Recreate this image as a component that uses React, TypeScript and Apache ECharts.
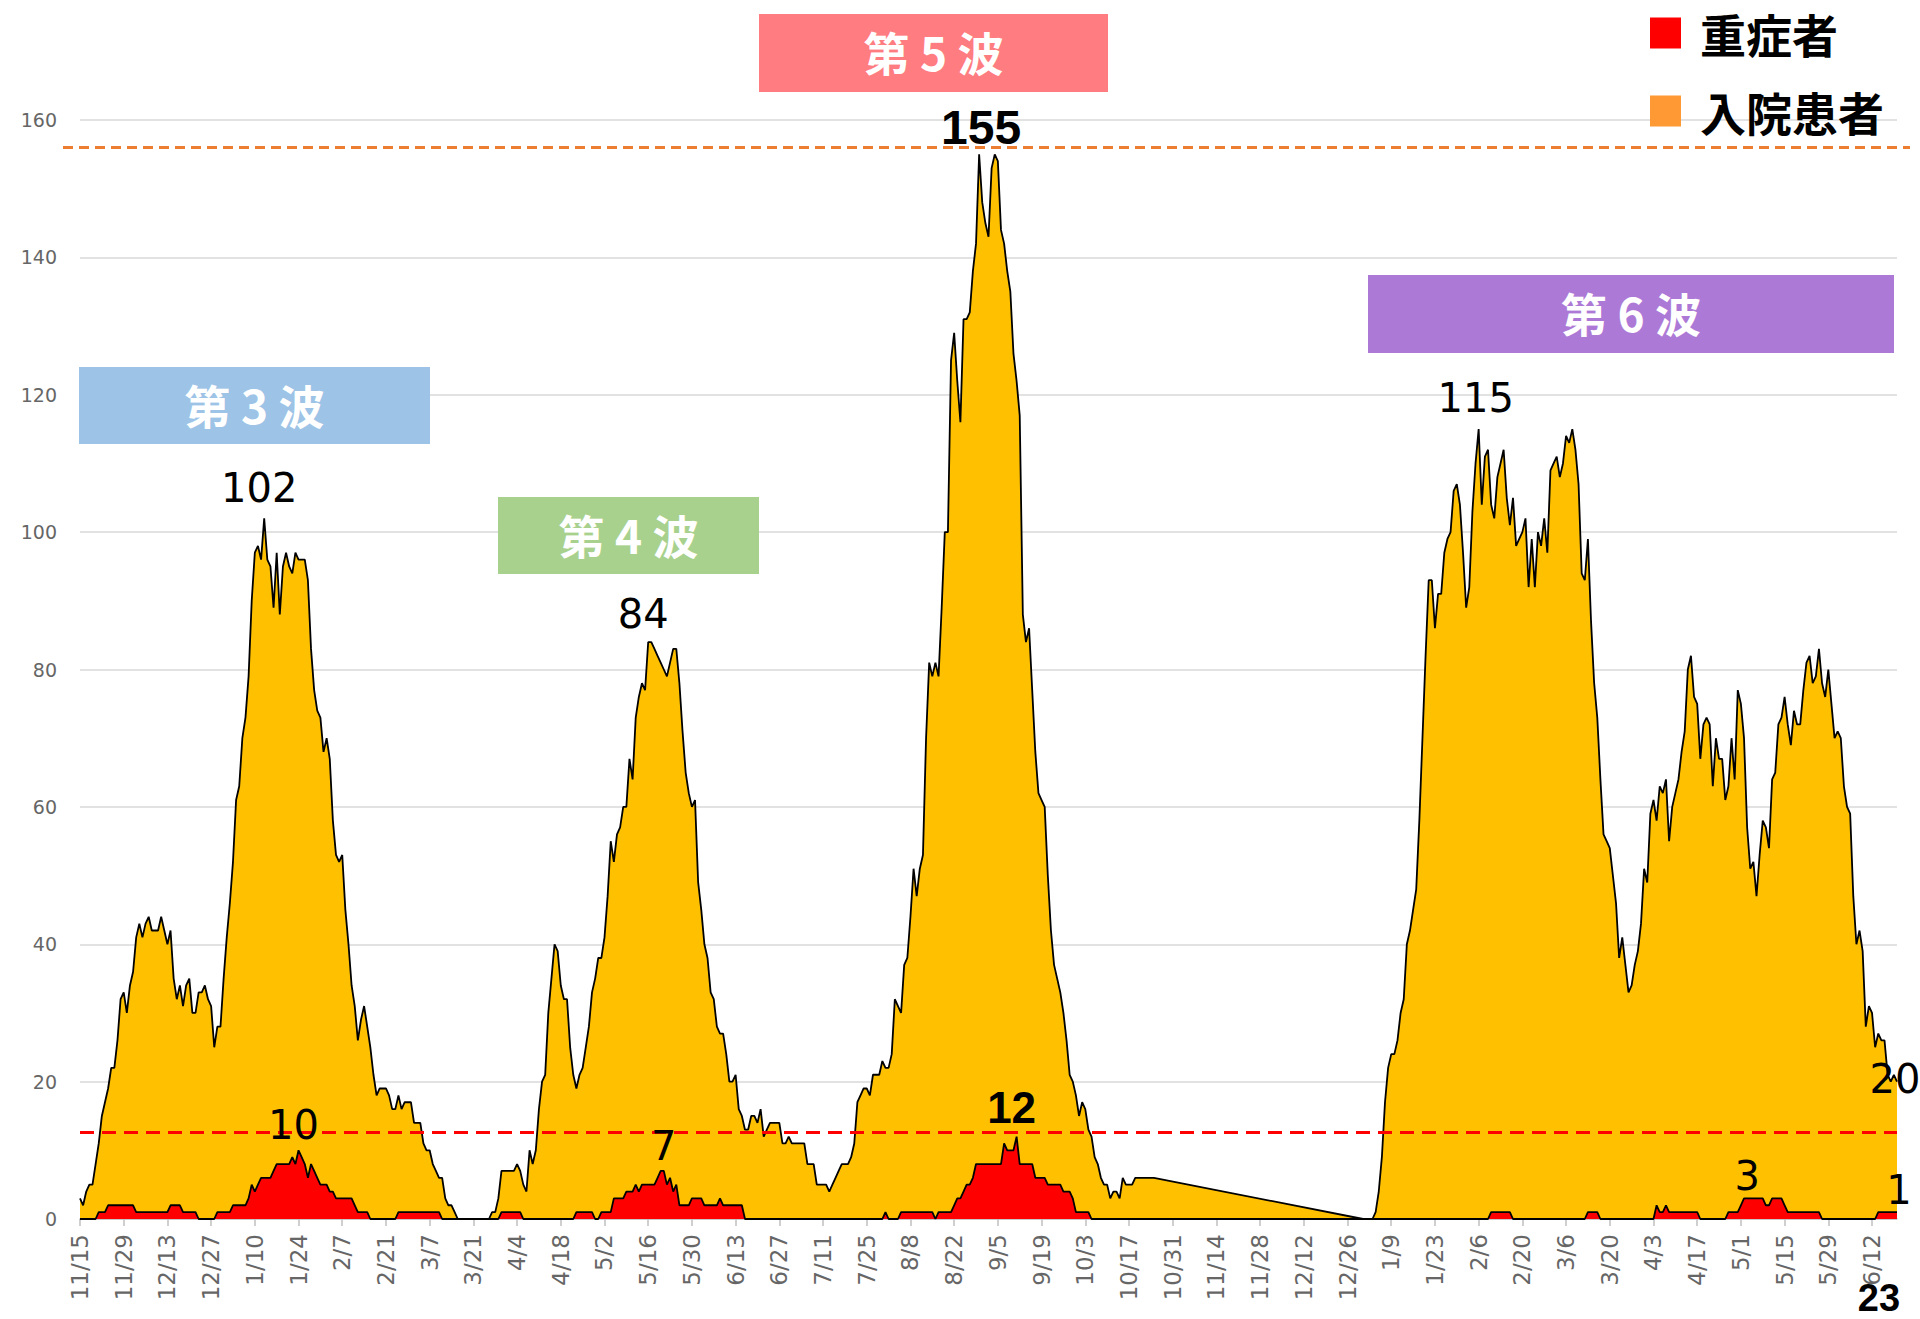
import React, { useEffect, useRef } from "react";
import * as echarts from "echarts";

// ---- categories: one per day from 2020-11-15 ----
const START_DATE = Date.UTC(2020, 10, 15);
const DAY_COUNT = 583;
const categories: string[] = [];
for (let i = 0; i < DAY_COUNT; i++) {
  const d = new Date(START_DATE + i * 86400000);
  categories.push(`${d.getUTCMonth() + 1}/${d.getUTCDate()}`);
}

// ---- 入院患者 (inpatients) ----
const inpatientBeforeGap = [
  3, 2, 4, 5, 5, 8, 11, 15, 17, 19, 22, 22, 26, 32, 33, 30, 34, 36, 41, 43,
  41, 43, 44, 42, 42, 42, 44, 42, 40, 42, 35, 32, 34, 31, 34, 35, 30, 30, 33, 33,
  34, 32, 31, 25, 28, 28, 35, 41, 46, 52, 61, 63, 70, 73, 79, 90, 97, 98, 96, 102,
  96, 95, 89, 97, 88, 95, 97, 95, 94, 97, 96, 96, 96, 93, 83, 77, 74, 73, 68, 70,
  67, 58, 53, 52, 53, 45, 40, 34, 31, 26, 29, 31, 28, 25, 21, 18, 19, 19, 19, 18,
  16, 16, 18, 16, 17, 17, 17, 14, 14, 14, 11, 10, 10, 8, 7, 6, 6, 3, 2, 2,
  1, 0, 0, 0, 0, 0, 0, 0, 0, 0, 0, 0, 1, 1, 3, 7, 7, 7, 7, 7,
  8, 7, 5, 4, 10, 8, 10, 16, 20, 21, 30, 35, 40, 39, 34, 32, 32, 25, 21, 19,
  21, 22, 25, 28, 33, 35, 38, 38, 41, 47, 55, 52, 56, 57, 60, 60, 67, 64, 73, 76,
  78, 77, 84, 84, 83, 82, 81, 80, 79, 81, 83, 83, 78, 71, 65, 62, 60, 61, 49, 45,
  40, 38, 33, 32, 28, 27, 27, 24, 20, 20, 21, 16, 15, 13, 13, 15, 15, 14, 16, 12,
  13, 14, 14, 14, 14, 11, 11, 12, 11, 11, 11, 11, 11, 8, 8, 8, 5, 5, 5, 5,
  4, 5, 6, 7, 8, 8, 8, 9, 11, 17, 18, 19, 19, 18, 21, 21, 21, 23, 22, 22,
  24, 32, 31, 30, 37, 38, 44, 51, 47, 51, 53, 70, 81, 79, 81, 79, 89, 100, 100, 125,
  129, 122, 116, 131, 131, 132, 138, 142, 155, 148, 145, 143, 153, 155, 154, 144, 142, 138, 135, 126,
  122, 117, 88, 84, 86, 77, 68, 62, 61, 60, 50, 42, 37, 35, 33, 30, 26, 21, 20, 18,
  15, 17, 16, 13, 12, 9, 8, 6, 5, 5, 3, 4, 4, 3, 6, 5, 5, 5, 6, 6,
  6, 6, 6, 6, 6,
];
const GAP_DAYS = 66; // no data 10/26/2021 - 12/30/2021
const inpatientAfterGap = [
  0, 0, 0, 0, 1, 4, 9, 17, 22, 24, 24, 26, 30, 32, 40, 42, 45, 48, 58, 70,
  82, 93, 93, 86, 91, 91, 97, 99, 100, 106, 107, 104, 97, 89, 92, 103, 110, 115, 104, 111,
  112, 104, 102, 108, 110, 112, 105, 101, 105, 98, 99, 100, 102, 92, 99, 92, 100, 98, 102, 97,
  109, 110, 111, 108, 110, 114, 113, 115, 112, 107, 94, 93, 99, 87, 78, 73, 64, 56, 55, 54,
  50, 46, 38, 41, 37, 33, 34, 37, 39, 43, 51, 49, 59, 61, 58, 63, 62, 64, 55, 60,
  62, 64, 68, 71, 80, 82, 76, 75, 67, 72, 73, 72, 63, 70, 67, 67, 61, 63, 70, 64,
  77, 75, 70, 57, 51, 52, 47, 53, 58, 57, 54, 64, 65, 72, 73, 76, 72, 69, 74, 72,
  72, 77, 81, 82, 78, 79, 83, 78, 76, 80, 75, 70, 71, 70, 63, 60, 59, 47, 40, 42,
  39, 28, 31, 30, 25, 27, 26, 26, 21, 20, 21, 20,
];

// ---- 重症者 (severe) ----
const severeBeforeGap = [
  0, 0, 0, 0, 0, 0, 1, 1, 1, 2, 2, 2, 2, 2, 2, 2, 2, 2, 1, 1,
  1, 1, 1, 1, 1, 1, 1, 1, 1, 2, 2, 2, 2, 1, 1, 1, 1, 1, 0, 0,
  0, 0, 0, 0, 1, 1, 1, 1, 1, 2, 2, 2, 2, 2, 3, 5, 4, 5, 6, 6,
  6, 6, 7, 8, 8, 8, 8, 8, 9, 8, 10, 9, 8, 6, 8, 7, 6, 5, 5, 5,
  4, 4, 3, 3, 3, 3, 3, 3, 2, 1, 1, 1, 1, 0, 0, 0, 0, 0, 0, 0,
  0, 0, 1, 1, 1, 1, 1, 1, 1, 1, 1, 1, 1, 1, 1, 1, 0, 0, 0, 0,
  0, 0, 0, 0, 0, 0, 0, 0, 0, 0, 0, 0, 0, 0, 0, 1, 1, 1, 1, 1,
  1, 1, 0, 0, 0, 0, 0, 0, 0, 0, 0, 0, 0, 0, 0, 0, 0, 0, 0, 1,
  1, 1, 1, 1, 1, 0, 0, 1, 1, 1, 1, 3, 3, 3, 3, 4, 4, 4, 5, 4,
  5, 5, 5, 5, 5, 6, 7, 7, 5, 6, 4, 5, 2, 2, 2, 2, 3, 3, 3, 3,
  2, 2, 2, 2, 2, 3, 2, 2, 2, 2, 2, 2, 2, 0, 0, 0, 0, 0, 0, 0,
  0, 0, 0, 0, 0, 0, 0, 0, 0, 0, 0, 0, 0, 0, 0, 0, 0, 0, 0, 0,
  0, 0, 0, 0, 0, 0, 0, 0, 0, 0, 0, 0, 0, 0, 0, 0, 0, 0, 1, 0,
  0, 0, 0, 1, 1, 1, 1, 1, 1, 1, 1, 1, 1, 1, 0, 1, 1, 1, 1, 1,
  2, 3, 3, 4, 5, 5, 6, 8, 8, 8, 8, 8, 8, 8, 8, 8, 11, 10, 10, 10,
  12, 8, 8, 8, 8, 8, 6, 6, 6, 6, 5, 5, 5, 5, 5, 4, 4, 4, 3, 1,
  1, 1, 1, 1, 0, 0, 0, 0, 0, 0, 0, 0, 0, 0, 0, 0, 0, 0, 0, 0,
  0, 0, 0, 0, 0,
];
const severeAfterGap = [
  0, 0, 0, 0, 0, 0, 0, 0, 0, 0, 0, 0, 0, 0, 0, 0, 0, 0, 0, 0,
  0, 0, 0, 0, 0, 0, 0, 0, 0, 0, 0, 0, 0, 0, 0, 0, 0, 0, 0, 0,
  0, 1, 1, 1, 1, 1, 1, 1, 0, 0, 0, 0, 0, 0, 0, 0, 0, 0, 0, 0,
  0, 0, 0, 0, 0, 0, 0, 0, 0, 0, 0, 0, 1, 1, 1, 1, 0, 0, 0, 0,
  0, 0, 0, 0, 0, 0, 0, 0, 0, 0, 0, 0, 0, 0, 2, 1, 1, 2, 1, 1,
  1, 1, 1, 1, 1, 1, 1, 1, 0, 0, 0, 0, 0, 0, 0, 0, 0, 1, 1, 1,
  1, 2, 3, 3, 3, 3, 3, 3, 3, 2, 2, 3, 3, 3, 3, 2, 1, 1, 1, 1,
  1, 1, 1, 1, 1, 1, 1, 0, 0, 0, 0, 0, 0, 0, 0, 0, 0, 0, 0, 0,
  0, 0, 0, 0, 0, 1, 1, 1, 1, 1, 1, 1,
];

const gap: (number | null)[] = new Array(GAP_DAYS).fill(null);
const inpatient: (number | null)[] = [...inpatientBeforeGap, ...gap, ...inpatientAfterGap];
const severe: (number | null)[] = [...severeBeforeGap, ...gap, ...severeAfterGap];

// reference lines
const HOSPITAL_BEDS = 156;
const SEVERE_BEDS = 12.6;

// y axis
const Y_MIN = 0;
const Y_MAX = 160;
const Y_STEP = 20;

// wave banners
const waves = [
  { text: "第 3 波", color: "#9DC3E6", x: 79, y: 367, w: 351, h: 77 },
  { text: "第 4 波", color: "#A9D18E", x: 498, y: 497, w: 261, h: 77 },
  { text: "第 5 波", color: "#FF7C80", x: 759, y: 14, w: 349, h: 78 },
  { text: "第 6 波", color: "#AD79D6", x: 1368, y: 275, w: 526, h: 78 },
];

// value annotations: [series, dayIndex, text, bold, size, dx, dy]
const annotations: [string, number, string, boolean, number, number, number][] = [
  ["inpatient", 59, "102", false, 40, -5, -30],
  ["inpatient", 182, "84", false, 40, -5, -28],
  ["inpatient", 288, "155", true, 48, 2, -27],
  ["inpatient", 448, "115", false, 40, -3, -31],
  ["inpatient", 582, "20", false, 40, -2, -3],
  ["severe", 70, "10", false, 40, -5, -25],
  ["severe", 186, "7", false, 40, 3, -25],
  ["severe", 300, "12", true, 44, -5, -29],
  ["severe", 534, "3", false, 40, 0, -22],
  ["severe", 582, "1", false, 40, 2, -22],
];

const CJK = '"Noto Sans CJK JP", "Noto Sans CJK SC", sans-serif';

export default function App() {
  const ref = useRef<HTMLDivElement>(null);
  useEffect(() => {
    if (!ref.current) return;
    const chart = echarts.init(ref.current, undefined, { renderer: "svg" });
    const option: any = {
      animation: false,
      backgroundColor: "#ffffff",
      grid: { left: 80, right: 23, top: 120, bottom: 100, containLabel: false },
      xAxis: {
        type: "category",
        boundaryGap: false,
        data: categories,
        axisLine: { lineStyle: { color: "#BFBFBF", width: 1.5 } },
        axisTick: { show: true, interval: 13, length: 7, lineStyle: { color: "#BFBFBF", width: 1.5 } },
        axisLabel: {
          interval: 13,
          rotate: 90,
          margin: 15,
          fontSize: 23,
          color: "#666666",
          fontFamily: "DejaVu Sans",
        },
        splitLine: { show: false },
      },
      yAxis: {
        type: "value",
        min: Y_MIN,
        max: Y_MAX,
        interval: Y_STEP,
        axisLine: { show: false },
        axisTick: { show: false },
        axisLabel: { fontSize: 19, color: "#666666", fontFamily: "DejaVu Sans", margin: 23 },
        splitLine: { lineStyle: { color: "#D9D9D9", width: 1.5 } },
      },
      series: [
        {
          name: "入院患者",
          type: "line",
          data: inpatient,
          connectNulls: true,
          symbol: "none",
          showSymbol: false,
          lineStyle: { color: "#000000", width: 1.8 },
          itemStyle: { color: "#FFC000" },
          areaStyle: { color: "#FFC000", opacity: 1 },
          z: 2,
        },
        {
          name: "重症者",
          type: "line",
          data: severe,
          connectNulls: true,
          symbol: "none",
          showSymbol: false,
          lineStyle: { color: "#000000", width: 1.8 },
          itemStyle: { color: "#FF0000" },
          areaStyle: { color: "#FF0000", opacity: 1 },
          z: 3,
          markLine: {
            silent: true,
            symbol: "none",
            label: { show: false },
            lineStyle: { color: "#FF0000", type: [14, 8], width: 3 },
            data: [{ yAxis: SEVERE_BEDS }],
          },
        },
      ],
    };
    chart.setOption(option);

    const graphics: any[] = [];
    // orange reference line (extends beyond plot)
    const yBeds = chart.convertToPixel({ yAxisIndex: 0 } as any, HOSPITAL_BEDS) as number;
    graphics.push({
      type: "line",
      shape: { x1: 63, y1: yBeds, x2: 1910, y2: yBeds },
      style: { stroke: "#ED7D31", lineWidth: 3, lineDash: [10, 6] },
      z: 10,
    });
    // wave banners
    waves.forEach((w) => {
      graphics.push({
        type: "rect",
        shape: { x: w.x, y: w.y, width: w.w, height: w.h },
        style: { fill: w.color },
        z: 20,
      });
      graphics.push({
        type: "text",
        x: w.x + w.w / 2,
        y: w.y + w.h / 2 - 2,
        style: {
          text: w.text,
          fill: "#ffffff",
          fontSize: 46,
          lineHeight: 48,
          fontWeight: "bold",
          fontFamily: CJK,
          align: "center",
          verticalAlign: "middle",
          textAlign: "center",
          textVerticalAlign: "middle",
        },
        z: 21,
      });
    });
    // legend
    const legendItems = [
      { text: "重症者", color: "#FF0000", y: 33 },
      { text: "入院患者", color: "#FF9933", y: 111 },
    ];
    legendItems.forEach((l) => {
      graphics.push({
        type: "rect",
        shape: { x: 1650, y: l.y - 15.5, width: 31, height: 31 },
        style: { fill: l.color },
        z: 20,
      });
      graphics.push({
        type: "text",
        x: 1700,
        y: l.y,
        style: {
          text: l.text,
          fill: "#000000",
          fontSize: 46,
          lineHeight: 48,
          fontWeight: "bold",
          fontFamily: CJK,
          align: "left",
          verticalAlign: "middle",
          textAlign: "left",
          textVerticalAlign: "middle",
        },
        z: 21,
      });
    });
    // value annotations
    annotations.forEach(([s, idx, text, bold, size, dx, dy]) => {
      const v = s === "inpatient" ? inpatient[idx] : severe[idx];
      const p = chart.convertToPixel({ gridIndex: 0 } as any, [idx, v as number]) as number[];
      graphics.push({
        type: "text",
        x: p[0] + dx,
        y: p[1] + dy,
        style: {
          text,
          fill: "#000000",
          fontSize: size,
          fontWeight: bold ? "bold" : "normal",
          fontFamily: bold ? "Liberation Sans" : "DejaVu Sans",
          align: "center",
          verticalAlign: "middle",
          textAlign: "center",
          textVerticalAlign: "middle",
        },
        z: 22,
      });
    });
    // date annotation under the axis end
    const pEnd = chart.convertToPixel({ gridIndex: 0 } as any, [DAY_COUNT - 1, 0]) as number[];
    graphics.push({
      type: "text",
      x: pEnd[0] - 18,
      y: 1298,
      style: {
        text: "23",
        fill: "#000000",
        fontSize: 38,
        fontWeight: "bold",
        fontFamily: "Liberation Sans",
        align: "center",
        verticalAlign: "middle",
        textAlign: "center",
        textVerticalAlign: "middle",
      },
      z: 22,
    });
    chart.setOption({ graphic: graphics });

    return () => chart.dispose();
  }, []);
  return (
    <div
      ref={ref}
      style={{ position: "absolute", left: 0, top: 0, width: 1920, height: 1319 }}
    />
  );
}
